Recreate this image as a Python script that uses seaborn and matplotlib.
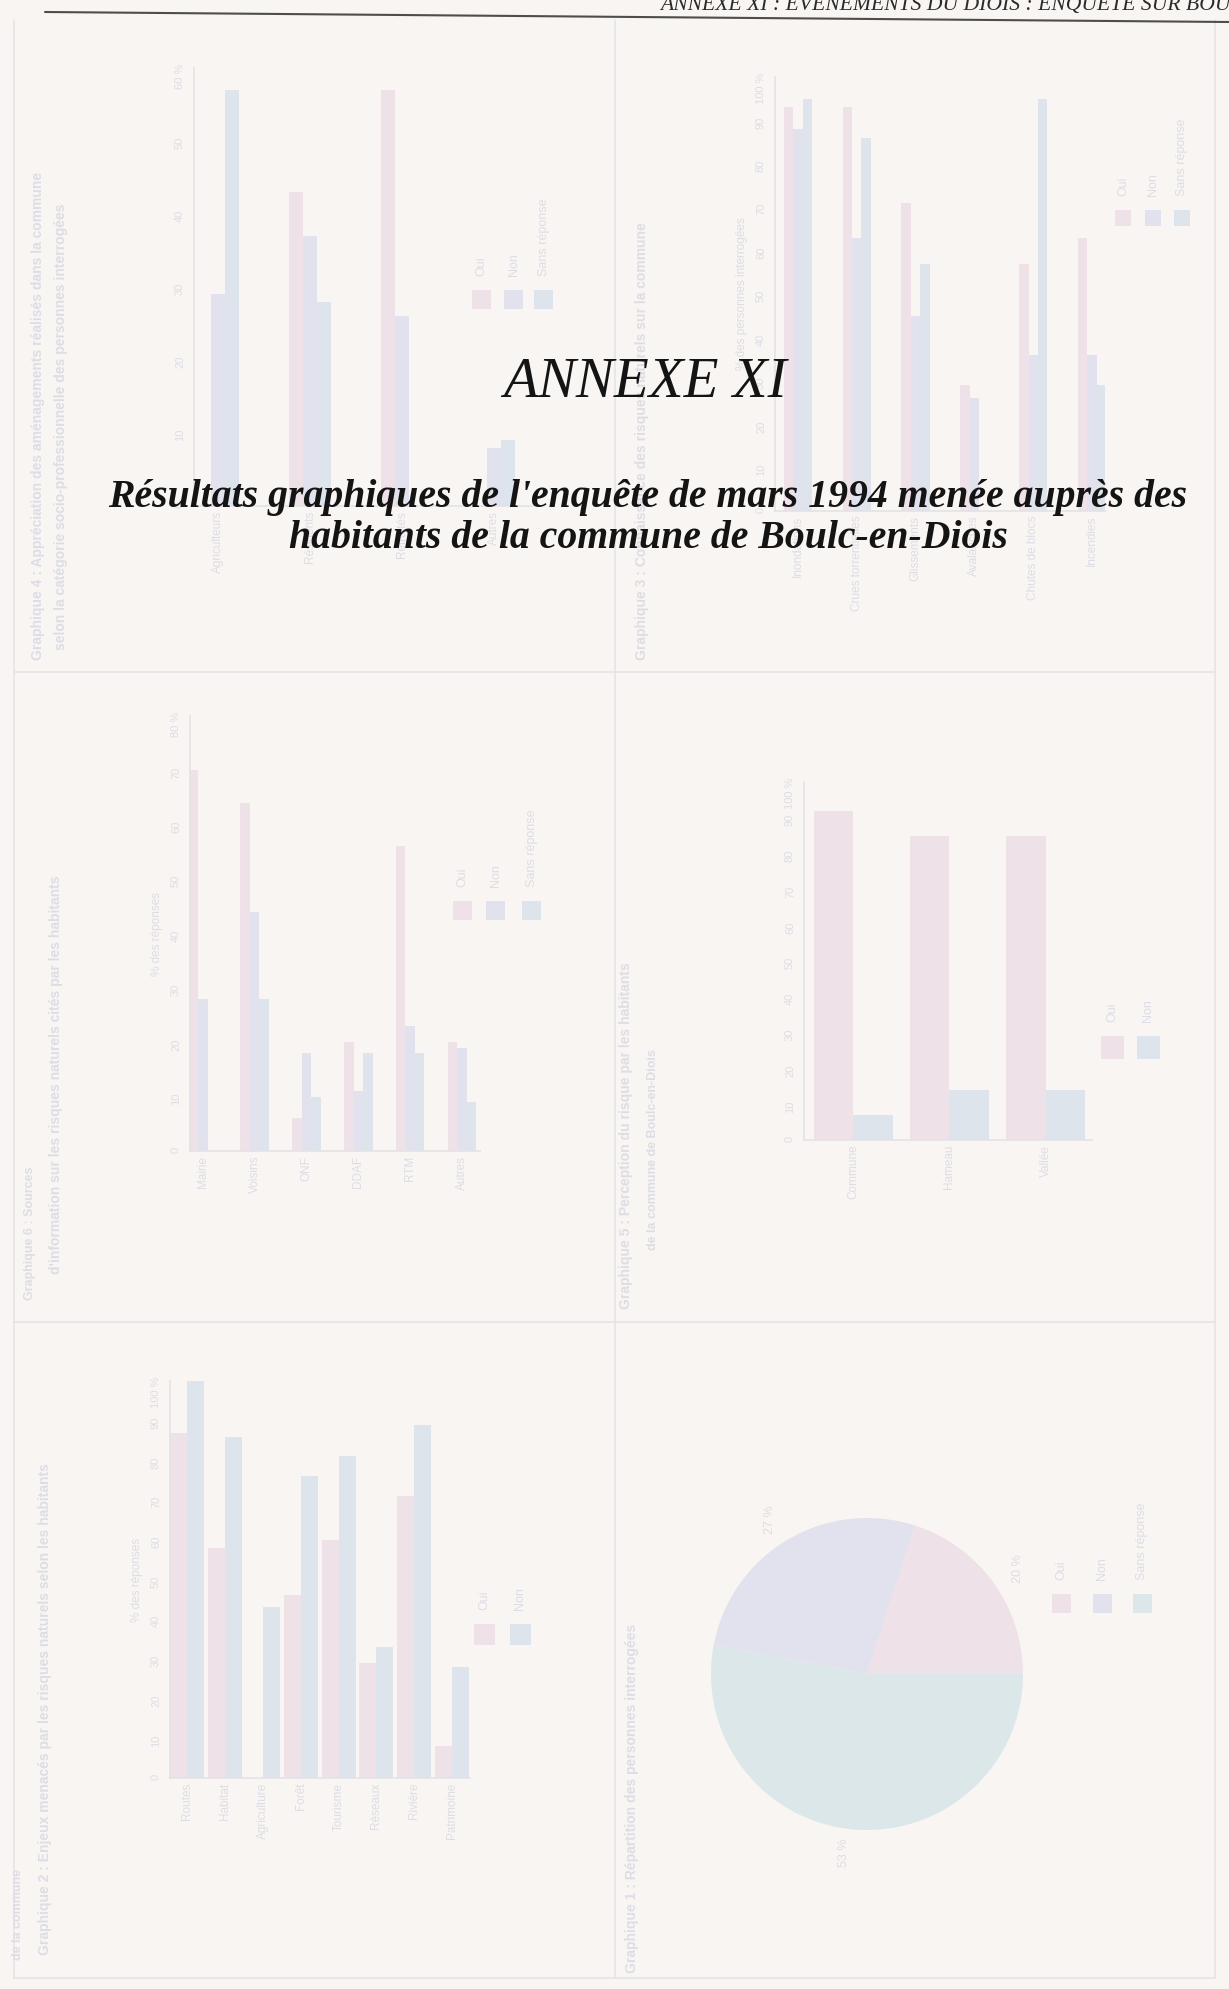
import numpy as np
import pandas as pd
import matplotlib.pyplot as plt
import seaborn as sb
from matplotlib.patches import Rectangle

W, H = 1229, 1989

# couleurs de la page scannee (graphiques du verso, tres pales)
PAGE = "#f8f5f2"
FAINT = "#dedde5"
LINE = "#e4e2e5"
PINK = "#efe1e8"
LAV = "#e2e2ee"
BLUE = "#dde4eb"
TEAL = "#dce7ea"

# graphique haut gauche
g1_cats = ["Agriculteurs", "Résidents", "Retraités", "Autres"]
g1_series = ["Oui", "Non", "Sans réponse"]
g1_pink = [0, 43, 57, 0]
g1_lav = [29, 37, 26, 8]
g1_blue = [57, 28, 0, 9]
g1_ticks = [0, 10, 20, 30, 40, 50, 60]

# graphique haut droite
g2_cats = ["Inondations", "Crues torrentielles", "Glissements", "Avalanches", "Chutes de blocs", "Incendies"]
g2_series = ["Oui", "Non", "Sans réponse"]
g2_pink = [93, 93, 71, 29, 57, 63]
g2_lav = [88, 63, 45, 26, 36, 36]
g2_blue = [95, 86, 57, 0, 95, 29]
g2_ticks = [0, 10, 20, 30, 40, 50, 60, 70, 80, 90, 100]

# graphique milieu gauche
g3_cats = ["Mairie", "Voisins", "ONF", "DDAF", "RTM", "Autres"]
g3_series = ["Oui", "Non", "Sans réponse"]
g3_pink = [70, 64, 6, 20, 56, 20]
g3_lav = [28, 44, 18, 11, 23, 19]
g3_blue = [0, 28, 10, 18, 18, 9]
g3_ticks = [0, 10, 20, 30, 40, 50, 60, 70, 80]

# graphique milieu droite
g4_cats = ["Commune", "Hameau", "Vallée"]
g4_series = ["Oui", "Non"]
g4_pink = [92, 85, 85]
g4_blue = [7, 14, 14]
g4_ticks = [0, 10, 20, 30, 40, 50, 60, 70, 80, 90, 100]

# graphique bas gauche
g5_cats = ["Routes", "Habitat", "Agriculture", "Forêt", "Tourisme", "Réseaux", "Rivière", "Patrimoine"]
g5_series = ["Oui", "Non"]
g5_pink = [87, 58, 0, 46, 60, 29, 71, 8]
g5_blue = [100, 86, 43, 76, 81, 33, 89, 28]
g5_ticks = [0, 10, 20, 30, 40, 50, 60, 70, 80, 90, 100]

# camembert bas droite
g6_labels = ["20 %", "27 %", "53 %"]
g6_values = [20, 27, 53]
g6_series = ["Oui", "Non", "Sans réponse"]

sb.set_style("white")
plt.rcParams["font.family"] = ["Liberation Sans", "DejaVu Sans"]

fig = plt.figure(figsize=(W / 100, H / 100), dpi=100, facecolor=PAGE)

bg = fig.add_axes([0, 0, 1, 1])
bg.set_xlim(0, W)
bg.set_ylim(H, 0)
bg.axis("off")
bg.set_facecolor(PAGE)


def box(x0, y0, x1, y1):
    return fig.add_axes([x0 / W, 1 - y1 / H, (x1 - x0) / W, (y1 - y0) / H])


def bars(rect, cats, names, vals, colors, ticks, xlim, width, ylabel=""):
    ax = box(*rect)
    df = pd.concat([pd.DataFrame({"cat": cats, "val": v, "serie": s})
                    for s, v in zip(names, vals)])
    sb.barplot(data=df, x="cat", y="val", hue="serie", order=cats, hue_order=names,
               palette=colors, width=width, saturation=1, errorbar=None,
               legend=False, ax=ax, linewidth=0)
    ax.set_xlim(*xlim)
    ax.set_ylim(ticks[0], ticks[-1])
    ax.set_yticks(ticks)
    ax.set_yticklabels([str(t) for t in ticks[:-1]] + [f"{ticks[-1]} %"])
    ax.set_xticks(range(len(cats)))
    ax.set_xticklabels(cats)
    ax.tick_params(axis="y", labelrotation=90, labelcolor=FAINT, color=FAINT,
                   labelsize=8, length=3)
    ax.tick_params(axis="x", labelrotation=90, labelcolor=FAINT, labelsize=8.5, length=0)
    ax.set_xlabel("")
    ax.set_ylabel(ylabel, color=FAINT, fontsize=8.5, labelpad=6)
    ax.patch.set_alpha(0)
    for side in ["top", "right"]:
        ax.spines[side].set_visible(False)
    for side in ["left", "bottom"]:
        ax.spines[side].set_color(LINE)
        ax.spines[side].set_linewidth(1.2)
    return ax


def legend(xs, y, size, colors, names):
    for x, c, n in zip(xs, colors, names):
        bg.add_patch(Rectangle((x, y), size, size, color=c, lw=0))
        bg.text(x + size / 2, y - 14, n, rotation=90, ha="center", va="bottom",
                color=FAINT, fontsize=9)


def vtext(x, y, s, size=10, weight="bold"):
    bg.text(x, y, s, rotation=90, ha="center", va="bottom", color=FAINT,
            fontsize=size, fontweight=weight)


# cadres des graphiques
for x in [14, 615, 1215]:
    bg.plot([x, x], [20, 1978], color=LINE, lw=1.1)
for y in [672, 1322, 1978]:
    bg.plot([14, 1215], [y, y], color=LINE, lw=1.1)

# haut gauche
bars((194, 68, 540, 506), g1_cats, g1_series, [g1_pink, g1_lav, g1_blue],
     [PINK, LAV, BLUE], g1_ticks, (-0.26, 3.5), 0.46)
legend([472, 504, 534], 290, 19, [PINK, LAV, BLUE], g1_series)
vtext(38, 660, "Graphique 4 : Appréciation des aménagements réalisés dans la commune")
vtext(61, 650, "selon la catégorie socio-professionnelle des personnes interrogées")

# haut droite
bars((775, 77, 1105, 511), g2_cats, g2_series, [g2_pink, g2_lav, g2_blue],
     [PINK, LAV, BLUE], g2_ticks, (-0.39, 5.22), 0.48, "% des personnes interrogées")
legend([1115, 1145, 1174], 210, 16, [PINK, LAV, BLUE], g2_series)
vtext(642, 660, "Graphique 3 : Connaissance des risques naturels sur la commune")

# milieu gauche
bars((190, 716, 480, 1151), g3_cats, g3_series, [g3_pink, g3_lav, g3_blue],
     [PINK, LAV, BLUE], g3_ticks, (-0.25, 5.35), 0.55, "% des réponses")
legend([453, 486, 522], 901, 19, [PINK, LAV, BLUE], g3_series)
vtext(30, 1300, "Graphique 6 : Sources", size=9)
vtext(56, 1274, "d'information sur les risques naturels cités par les habitants")

# milieu droite
bars((804, 782, 1092, 1140), g4_cats, g4_series, [g4_pink, g4_blue],
     [PINK, BLUE], g4_ticks, (-0.51, 2.48), 0.82)
legend([1101, 1137], 1036, 23, [PINK, BLUE], g4_series)
vtext(626, 1309, "Graphique 5 : Perception du risque par les habitants")
vtext(653, 1250, "de la commune de Boulc-en-Diois", size=9)

# bas gauche
bars((170, 1381, 470, 1778), g5_cats, g5_series, [g5_pink, g5_blue],
     [PINK, BLUE], g5_ticks, (-0.45, 7.47), 0.9, "% des réponses")
legend([474, 510], 1624, 21, [PINK, BLUE], g5_series)
vtext(45, 1955, "Graphique 2 : Enjeux menacés par les risques naturels selon les habitants")
vtext(18, 1960, "de la commune", size=9)

# bas droite
ax6 = box(672, 1479, 1062, 1869)
ax6.pie(g6_values, labels=g6_labels, colors=[PINK, LAV, TEAL], startangle=0,
        counterclock=True, labeldistance=1.15, wedgeprops=dict(linewidth=0),
        textprops=dict(color=FAINT, fontsize=9, rotation=90))
ax6.patch.set_alpha(0)
legend([1052, 1093, 1133], 1594, 19, [PINK, LAV, TEAL], g6_series)
vtext(632, 1973, "Graphique 1 : Répartition des personnes interrogées")

# en-tete et titre de l'annexe
bg.plot([45, 1229], [12, 22], color="#4d4d4d", lw=1.5)
fig.text(660 / W, 1 - 10 / H, "ANNEXE XI : ÉVÉNEMENTS DU DIOIS : ENQUÊTE SUR BOULC-EN-DIOIS",
         family="Liberation Serif", style="italic", fontsize=15.6, ha="left",
         va="baseline", color="#2a2a2a")
fig.text(645 / W, 1 - 397 / H, "ANNEXE XI", family="Liberation Serif",
         style="italic", fontsize=41, ha="center", va="baseline", color="#141414")
fig.text(648 / W, 1 - 507 / H,
         "Résultats graphiques de l'enquête de mars 1994 menée auprès des",
         family="Liberation Serif", style="italic", weight="bold", fontsize=28.6,
         ha="center", va="baseline", color="#141414")
fig.text(648 / W, 1 - 548 / H, "habitants de la commune de Boulc-en-Diois",
         family="Liberation Serif", style="italic", weight="bold", fontsize=28.6,
         ha="center", va="baseline", color="#141414")

fig.savefig("out.png", dpi=100, facecolor=PAGE)
